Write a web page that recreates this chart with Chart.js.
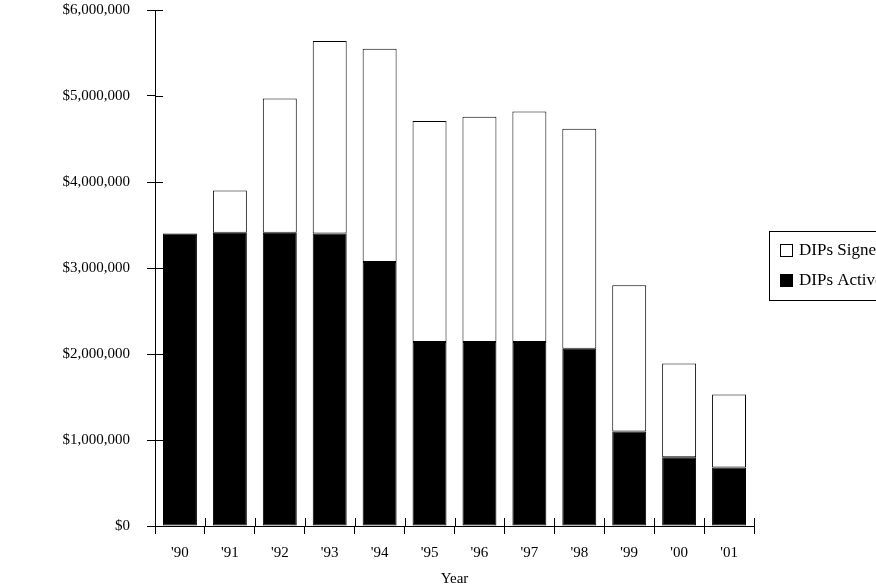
<!DOCTYPE html>
<html>
<head>
<meta charset="utf-8">
<script src="https://cdn.jsdelivr.net/npm/chart.js@4/dist/chart.umd.min.js"></script>
<style>
  html, body { margin: 0; padding: 0; background: #fff; }
  canvas { display: block; }
</style>
</head>
<body>
<canvas id="c" width="876" height="588"></canvas>
<script>
// ---- data ----
const years = ["'90", "'91", "'92", "'93", "'94", "'95", "'96", "'97", "'98", "'99", "'00", "'01"];
const dipsActive = [3400000, 3410000, 3410000, 3400000, 3070000, 2140000, 2140000, 2140000, 2060000, 1100000, 800000, 680000];
// portion signed on top of the active amount (stack segment)
const dipsSigned = [0, 490000, 1560000, 2240000, 2480000, 2570000, 2620000, 2680000, 2560000, 1700000, 1090000, 850000];
const yTickMax = 6000000;
const yTickStep = 1000000;
const xTitle = 'Year';

const SERIF = '"Liberation Serif", "DejaVu Serif", serif';

const crossTicks = {
  id: 'crossTicks',
  afterDraw(chart) {
    const ctx = chart.ctx;
    const area = chart.chartArea;
    const xs = chart.scales.x, ys = chart.scales.y;
    ctx.save();
    ctx.strokeStyle = '#000';
    ctx.lineWidth = 1;
    ctx.beginPath();
    ys.ticks.forEach((t, i) => {
      const y = Math.round(ys.getPixelForTick(i)) + 0.5;
      ctx.moveTo(area.left, y);
      ctx.lineTo(area.left + 8, y);
    });
    const n = xs.ticks.length;
    const bounds = [area.left];
    for (let i = 1; i < n; i++) bounds.push((xs.getPixelForTick(i - 1) + xs.getPixelForTick(i)) / 2);
    bounds.push(area.right);
    bounds.forEach(x => {
      const xx = Math.round(x) + 0.5;
      ctx.moveTo(xx, area.bottom);
      ctx.lineTo(xx, area.bottom - 8);
    });
    ctx.stroke();
    ctx.restore();
  }
};

const boxLegend = {
  id: 'boxLegend',
  afterDraw(chart) {
    const ctx = chart.ctx;
    ctx.save();
    ctx.strokeStyle = '#000';
    ctx.lineWidth = 1;
    ctx.strokeRect(769.5, 231.5, 140, 69);
    const items = chart.data.datasets.slice().reverse();
    ctx.font = '17px ' + SERIF;
    ctx.textBaseline = 'middle';
    items.forEach((ds, i) => {
      const cy = 250 + i * 30;
      ctx.fillStyle = ds.backgroundColor;
      ctx.fillRect(780, cy - 6, 13, 13);
      ctx.strokeRect(780.5, cy - 5.5, 12, 12);
      ctx.fillStyle = '#000';
      ctx.fillText(ds.label, 799, cy + 1);
    });
    ctx.restore();
  }
};

new Chart(document.getElementById('c'), {
  type: 'bar',
  data: {
    labels: years,
    datasets: [
      { label: 'DIPs Active', data: dipsActive, backgroundColor: '#000000', borderColor: '#000000',
        borderWidth: 1, borderSkipped: false, barPercentage: 0.68, categoryPercentage: 1 },
      { label: 'DIPs Signed', data: dipsSigned, backgroundColor: '#ffffff', borderColor: '#000000',
        borderWidth: 1, borderSkipped: false, barPercentage: 0.68, categoryPercentage: 1 }
    ]
  },
  options: {
    responsive: false,
    animation: false,
    devicePixelRatio: 1,
    layout: { padding: { top: 10, right: 122, left: 0, bottom: 0 } },
    plugins: { legend: { display: false }, tooltip: { enabled: false } },
    scales: {
      x: {
        stacked: true,
        grid: { offset: true, drawOnChartArea: false, color: '#000', tickColor: '#000', tickLength: 8, lineWidth: 1 },
        border: { color: '#000', width: 1 },
        ticks: { color: '#000', font: { family: SERIF, size: 15 }, padding: 10, maxRotation: 0 },
        title: { display: true, text: xTitle, color: '#000', font: { family: SERIF, size: 15 }, padding: { top: 0, bottom: 0 } },
        afterFit(scale) { scale.height = 62; }
      },
      y: {
        stacked: true,
        min: 0,
        max: yTickMax,
        grid: { drawOnChartArea: false, color: '#000', tickColor: '#000', tickLength: 8, lineWidth: 1 },
        border: { color: '#000', width: 1 },
        ticks: {
          stepSize: yTickStep,
          color: '#000',
          font: { family: SERIF, size: 15 },
          padding: 17,
          callback: v => '$' + Number(v).toLocaleString('en-US')
        },
        afterFit(scale) { scale.width = 155; scale.paddingTop = 0; scale.paddingBottom = 0; }
      }
    }
  },
  plugins: [crossTicks, boxLegend]
});
</script>
</body>
</html>
